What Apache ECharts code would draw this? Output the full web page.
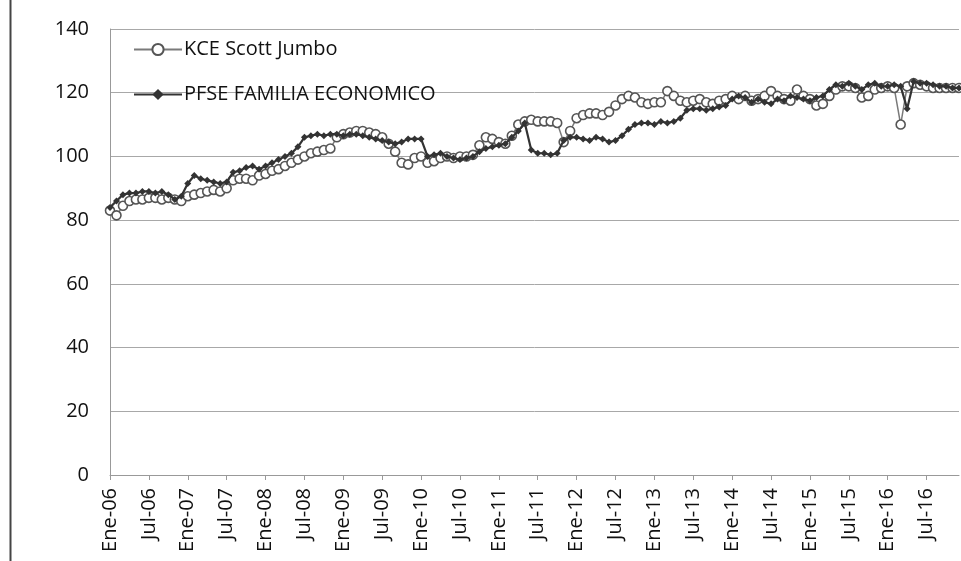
<!DOCTYPE html>
<html>
<head>
<meta charset="utf-8">
<script src="https://cdn.jsdelivr.net/npm/echarts@6/dist/echarts.min.js"></script>
<style>html,body{margin:0;padding:0;background:#fff;}#c{width:961px;height:561px;}</style>
</head>
<body>
<div id="c"></div>
<script>
const monthNames = ['Ene','Feb','Mar','Abr','May','Jun','Jul','Ago','Sep','Oct','Nov','Dic'];
const years = ['06','07','08','09','10','11','12','13','14','15','16'];
const categories = [];
years.forEach(y => monthNames.forEach(m => categories.push(m + '-' + y)));

const yTicks = [0, 20, 40, 60, 80, 100, 120, 140];

const kceScottJumbo = [
  83, 81.5, 84.5, 86, 86.5, 86.5, 87, 87, 86.5, 87, 86.5, 86,
  87.5, 88, 88.5, 89, 89.5, 89, 90, 92.5, 93, 93, 92.5, 94,
  94.5, 95.5, 96, 97, 98, 99, 100, 101, 101.5, 102, 102.5, 106,
  107, 107.5, 108, 108, 107.5, 107, 106, 104, 101.5, 98, 97.5, 99.5,
  100, 98, 98.5, 99.5, 100, 99.5, 100, 100, 100.5, 103.5, 106, 105.5,
  104.5, 104, 106.5, 110, 111, 111.5, 111, 111, 111, 110.5, 104.5, 108,
  112, 113, 113.5, 113.5, 113, 114, 116, 118, 119, 118.5, 117, 116.5,
  117, 117, 120.5, 119, 117.5, 117, 117.5, 118, 117, 116.5, 117.5, 118,
  119, 118, 119, 117.5, 118, 119, 120.5, 119, 118, 117.5, 121, 119,
  118, 116, 116.5, 119, 121, 122, 122, 121.5, 118.5, 119, 121, 121.5,
  122, 121.5, 110, 122, 123, 122.5, 122, 121.5, 121.5, 121.5, 121.5, 121.5
];

const pfseFamiliaEconomico = [
  84, 86, 88, 88.5, 88.5, 89, 89, 88.5, 89, 88, 86.5, 87.5,
  91.5, 94, 93, 92.5, 92, 91.5, 92, 95, 95.5, 96.5, 97, 96,
  97, 98, 99, 100, 101, 103, 106, 106.5, 107, 106.5, 107, 107,
  106.5, 107, 107, 106.5, 106, 105.5, 105, 104.5, 104, 104.5, 105.5, 105.5,
  105.5, 100, 100.5, 101, 100, 99.5, 99, 99.5, 100, 101.5, 102.5, 103,
  103.5, 104, 106, 108, 110.5, 102, 101, 101, 100.5, 101, 105, 106,
  106, 105.5, 105, 106, 105.5, 104.5, 105, 106.5, 108.5, 110, 110.5, 110.5,
  110, 111, 110.5, 111, 112, 114.5, 115, 115, 114.5, 115, 115.5, 116,
  118, 119, 118.5, 117, 118, 117, 116.5, 118, 117.5, 119, 118.5, 118,
  117.5, 118.5, 119, 121, 122.5, 122, 123, 122, 121, 122.5, 123, 122,
  122, 122.5, 122, 115, 123.5, 123, 123, 122.5, 122, 122, 121.5, 121.5
];

const font = 'Open Sans, Liberation Sans, sans-serif';
const chart = echarts.init(document.getElementById('c'), null, {renderer: 'canvas'});
chart.setOption({
  animation: false,
  backgroundColor: '#fff',
  graphic: [{
    type: 'line', shape: {x1: 10.5, y1: 0, x2: 10.5, y2: 561},
    style: {stroke: '#444', lineWidth: 2}, silent: true
  }],
  grid: {left: 110, right: 2, top: 29, bottom: 86, containLabel: false},
  legend: {
    orient: 'vertical', left: 128, top: 31, itemGap: 18,
    itemWidth: 48, itemHeight: 14,
    textStyle: {fontFamily: font, fontSize: 20, color: '#111', padding: [0, 0, 0, -3], lineHeight: 27},
    data: ['KCE Scott Jumbo', 'PFSE FAMILIA ECONOMICO']
  },
  xAxis: {
    type: 'category', data: categories, boundaryGap: false,
    axisLine: {lineStyle: {color: '#999', width: 1}},
    axisTick: {show: true, interval: 5, length: 5, lineStyle: {color: '#999'}},
    axisLabel: {interval: 5, rotate: 90, margin: 13, fontFamily: font, fontSize: 20, color: '#111'},
    splitLine: {show: false}
  },
  yAxis: {
    type: 'value', min: yTicks[0], max: yTicks[yTicks.length - 1], interval: 20,
    axisLine: {show: true, lineStyle: {color: '#999'}},
    axisTick: {show: false},
    axisLabel: {margin: 21, fontFamily: font, fontSize: 20, color: '#111'},
    splitLine: {lineStyle: {color: '#a8a8a8', width: 1}}
  },
  series: [
    {
      name: 'KCE Scott Jumbo', type: 'line', data: kceScottJumbo,
      symbol: 'circle', symbolSize: 9, showAllSymbol: true,
      lineStyle: {color: '#7a7a7a', width: 1.5},
      itemStyle: {color: '#fff', borderColor: '#555', borderWidth: 1.6},
      z: 2
    },
    {
      name: 'PFSE FAMILIA ECONOMICO', type: 'line', data: pfseFamiliaEconomico,
      symbol: 'diamond', symbolSize: 7, showAllSymbol: true,
      lineStyle: {color: '#333', width: 2.2},
      itemStyle: {color: '#333'},
      z: 3
    }
  ]
});
</script>
</body>
</html>
